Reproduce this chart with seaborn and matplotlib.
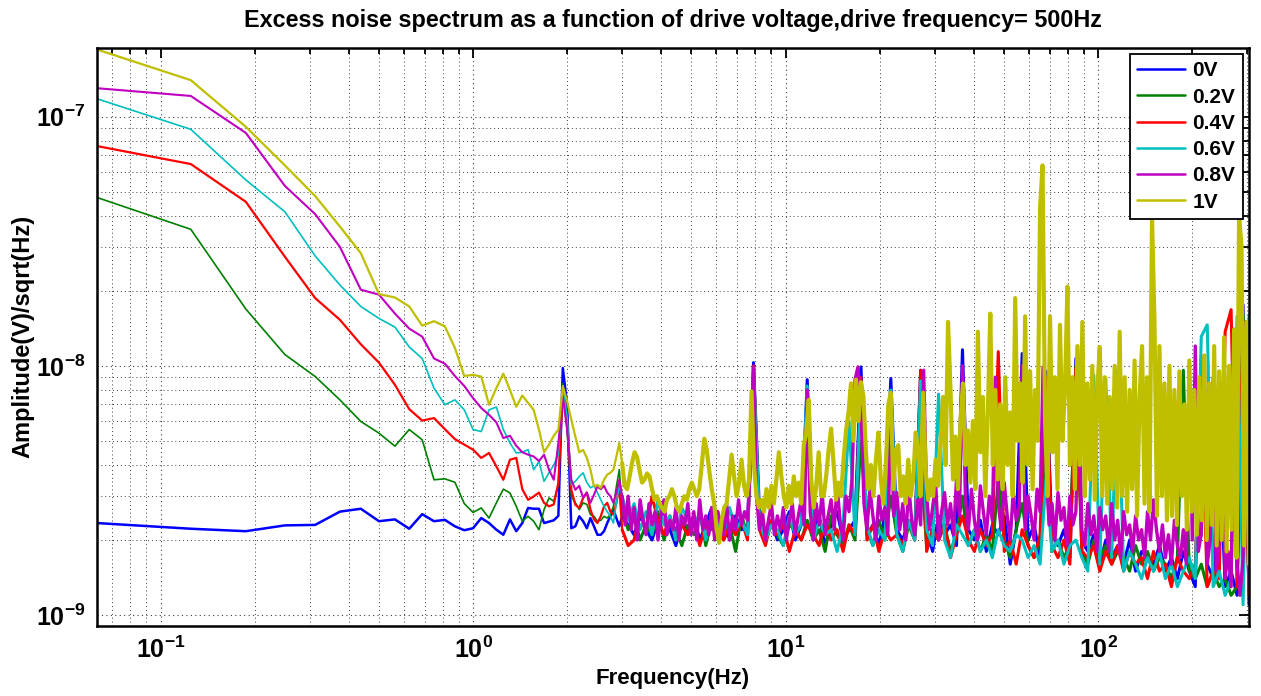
import numpy as np
import pandas as pd
import matplotlib
matplotlib.use("Agg")
import matplotlib.pyplot as plt
import seaborn as sns
from matplotlib.ticker import LogLocator, NullFormatter, LogFormatterSciNotation

# ---------------- data (amplitudes in nV/sqrt(Hz)) ----------------
DF = 0.0625          # frequency resolution of the spectrum (Hz)
N_LOW = 48           # bins read one by one (0.0625 .. 3 Hz)
F_MAX = 304.0        # upper end of spectrum (Hz)

LABELS = ["0V", "0.2V", "0.4V", "0.6V", "0.8V", "1V"]
COLORS = ["#0000ff", "#008000", "#ff0000", "#00bfbf", "#bf00bf", "#bfbf00"]

V0_LOW = [2.34, 2.22, 2.17, 2.29, 2.30, 2.60, 2.67, 2.38, 2.42, 2.22,
          2.54, 2.38, 2.41, 2.27, 2.19, 2.23, 2.45, 2.34, 2.20, 2.10,
          2.42, 2.17, 2.34, 2.69, 2.67, 2.67, 2.34, 2.37, 2.40, 2.50,
          9.8, 7.0, 2.23, 2.27, 2.49, 2.38, 2.23, 2.45, 2.27, 2.10,
          2.10, 2.17, 2.34, 2.49, 2.65, 2.45, 2.27, 2.49]
V02_LOW = [47.4, 35.3, 16.9, 11.1, 9.06, 7.3, 5.98, 5.37, 4.76, 5.55,
           5.05, 3.49, 3.52, 3.41, 2.80, 2.58, 2.69, 2.45, 2.82, 3.2,
           3.09, 2.73, 2.38, 2.49, 2.38, 2.2, 2.65, 2.95, 2.86, 3.33,
           8.5, 5.55, 2.99, 2.82, 2.65, 2.82, 2.78, 2.53, 2.49, 2.38,
           2.40, 2.49, 2.45, 2.53, 2.73, 3.28, 3.83, 2.65]
V04_LOW = [76.2, 64.5, 45.5, 27.4, 18.7, 15.3, 12.2, 10.3, 8.39, 6.7,
           6.03, 6.17, 5.57, 5.08, 4.83, 4.61, 4.27, 4.47, 3.95, 3.49,
           4.2, 4.27, 3.2, 2.9, 2.99, 3.1, 2.82, 2.73, 2.78, 3.39,
           8.0, 6.07, 3.18, 2.77, 2.69, 2.95, 3.1, 2.65, 2.42, 2.34,
           2.49, 2.73, 2.82, 2.6, 2.53, 2.82, 3.28, 2.2]
V06_LOW = [118, 88.9, 55.7, 41.5, 27.6, 21.1, 17.3, 15.5, 14.3, 11.9,
           10.7, 8.14, 6.98, 7.3, 6.66, 5.55, 5.45, 6.66, 6.83, 5.55,
           4.9, 4.47, 4.5, 4.61, 3.83, 4.13, 3.44, 3.72, 4.0, 4.4,
           8.26, 6.26, 3.33, 3.44, 3.6, 3.72, 3.4, 3.24, 3.3, 3.1,
           2.9, 2.73, 2.6, 2.49, 2.34, 2.82, 3.3, 3.0]
V08_LOW = [130, 121, 86, 52.7, 40.6, 30, 20.2, 19.3, 16.2, 14.1,
           13.1, 10.7, 10.2, 9.1, 8.3, 7.42, 6.77, 6.36, 5.93, 5.13,
           5.24, 4.78, 4.5, 4.4, 4.33, 4.15, 4.4, 3.83, 3.49, 4.9,
           7.5, 5.55, 3.49, 3.18, 3.3, 2.95, 3.1, 2.82, 3.04, 3.28,
           3.2, 3.3, 3.1, 3.0, 2.82, 3.1, 3.49, 3.0]
V1_LOW = [186, 140, 91, 63.7, 48, 36.2, 28.3, 19.4, 18.8, 17.3,
          14.5, 15.1, 14.4, 11.8, 9.1, 9.2, 9.05, 6.98, 8.14, 9.3,
          8.0, 6.85, 7.6, 7.1, 6.66, 5.55, 4.5, 4.83, 5.24, 5.55,
          8.3, 7.2, 6.07, 5.2, 4.5, 4.6, 4.27, 3.83, 3.28, 3.33,
          3.24, 3.49, 3.66, 3.72, 3.83, 4.33, 4.9, 4.07]

# 3 Hz .. 304 Hz, read at evenly spaced positions on the log axis
V0_HIGH = [2.3, 2.1, 2.5, 2.2, 2.0, 2.4, 2.6, 2.2, 1.9, 2.4,
           2.2, 2.5, 2.0, 2.3, 2.7, 2.1, 2.4, 2.0, 2.5, 2.2,
           2.3, 10.3, 2.6, 2.1, 2.4, 2.0, 2.2, 2.6, 2.0, 2.3,
           8.8, 2.2, 2.5, 1.9, 2.3, 2.6, 2.0, 2.2, 2.4, 9.9,
           2.1, 2.3, 1.9, 2.5, 8.9, 2.2, 2.0, 2.4, 2.1, 9.6,
           2.2, 1.8, 2.5, 2.1, 2.3, 1.9, 11.6, 2.2, 2.0, 2.4,
           1.8, 2.3, 2.1, 2.5, 1.6, 2.2, 11.2, 2.0, 2.3, 1.7,
           9.5, 2.1, 1.9, 2.2, 1.7, 10.7, 2.0, 1.8, 2.1, 1.6,
           2.0, 1.7, 1.9, 1.6, 2.0, 1.5, 1.8, 1.7, 1.6, 1.9,
           1.5, 1.7, 1.4, 1.8, 1.5, 1.3, 10.7, 1.6, 1.4, 5.4,
           1.3, 1.5, 1.2, 17.6, 1.1]
V02_HIGH = [2.2, 2.5, 2.0, 2.3, 2.1, 2.6, 2.0, 2.4, 2.2, 1.9,
            2.3, 2.1, 2.6, 1.9, 2.4, 2.2, 2.0, 2.3, 1.8, 2.5,
            2.1, 9.0, 2.3, 2.0, 2.4, 2.1, 1.9, 2.3, 2.2, 2.0,
            2.4, 2.0, 2.2, 1.8, 2.5, 2.1, 1.9, 2.3, 2.0, 5.0,
            2.2, 1.9, 2.4, 2.0, 3.0, 2.1, 1.8, 2.3, 2.0, 4.0,
            1.9, 2.2, 2.0, 2.3, 1.8, 2.1, 3.0, 1.9, 2.2, 1.8,
            2.1, 1.8, 3.5, 2.0, 1.7, 2.2, 2.8, 1.9, 1.7, 2.0,
            4.5, 1.8, 2.0, 1.7, 1.9, 10.0, 1.8, 1.6, 2.0, 1.7,
            1.9, 1.6, 1.8, 1.7, 1.5, 1.9, 1.6, 1.8, 1.5, 1.7,
            1.6, 1.4, 1.7, 9.6, 1.5, 1.4, 1.6, 1.3, 1.5, 1.3,
            1.4, 1.2, 1.3, 16.0, 1.2]
V04_HIGH = [1.9, 2.0, 2.6, 2.2, 3.0, 2.4, 2.1, 2.5, 2.0, 2.3,
            2.1, 2.4, 1.9, 2.3, 2.2, 2.6, 2.0, 2.3, 2.1, 2.4,
            2.0, 10.0, 2.2, 1.9, 2.4, 2.1, 2.3, 1.8, 2.2, 2.0,
            2.3, 2.1, 1.9, 2.4, 2.0, 2.2, 1.8, 2.3, 2.1, 9.0,
            2.0, 2.3, 1.8, 2.2, 2.0, 2.1, 1.9, 2.4, 2.0, 9.6,
            1.8, 2.2, 2.0, 2.3, 1.7, 2.1, 2.5, 2.0, 1.8, 2.2,
            1.9, 2.1, 11.4, 1.8, 2.0, 1.6, 2.2, 1.9, 1.7, 2.1,
            9.0, 1.9, 1.7, 2.0, 1.6, 9.8, 1.8, 1.7, 1.9, 1.5,
            1.8, 1.6, 1.9, 1.5, 1.8, 1.6, 1.7, 1.4, 1.8, 1.5,
            1.6, 1.3, 1.7, 1.5, 1.4, 1.6, 8.0, 1.3, 1.5, 1.4,
            13.7, 16.8, 1.3, 15.0, 1.2]
V06_HIGH = [2.4, 2.8, 2.2, 2.6, 2.1, 2.9, 2.3, 2.5, 2.0, 2.7,
            2.4, 2.2, 2.6, 2.0, 2.5, 2.3, 2.1, 2.7, 2.2, 2.4,
            2.1, 9.5, 2.4, 2.0, 2.3, 2.2, 1.9, 2.5, 2.1, 2.3,
            8.3, 2.0, 2.4, 2.1, 2.2, 1.8, 2.3, 6.0, 2.1, 8.0,
            2.3, 1.9, 2.2, 2.0, 8.0, 2.1, 1.8, 2.4, 2.0, 8.7,
            2.2, 1.9, 7.7, 2.0, 1.7, 2.3, 2.1, 1.9, 2.2, 1.8,
            2.0, 1.7, 2.2, 1.9, 1.8, 2.1, 2.0, 1.7, 1.9, 1.6,
            3.5, 1.8, 2.0, 1.6, 1.9, 2.0, 1.7, 1.5, 9.2, 1.6,
            8.9, 1.7, 9.6, 1.5, 1.8, 1.6, 1.4, 1.7, 1.5, 1.8,
            1.4, 1.6, 1.3, 1.5, 1.7, 1.4, 13.1, 14.6, 1.3, 1.5,
            1.2, 1.4, 15.8, 1.1, 16.0]
V08_HIGH = [2.3, 3.0, 2.2, 2.7, 2.0, 2.9, 2.4, 2.1, 2.8, 2.3,
            2.6, 2.0, 2.5, 2.9, 2.1, 2.4, 2.2, 2.7, 2.0, 2.5,
            2.3, 2.8, 2.1, 2.6, 2.0, 2.9, 2.2, 2.5, 2.1, 2.7,
            2.0, 2.6, 2.3, 2.1, 2.8, 2.0, 2.5, 2.2, 2.9, 2.3,
            2.6, 2.4, 4.0, 9.9, 3.0, 2.2, 2.6, 2.0, 2.4, 2.8,
            2.1, 2.5, 2.2, 2.7, 2.0, 2.4, 2.8, 2.1, 2.5, 2.9,
            2.3, 8.0, 2.6, 2.0, 2.8, 2.3, 3.1, 2.1, 2.5, 2.9,
            2.2, 3.3, 2.4, 2.0, 3.0, 2.6, 3.5, 8.8, 9.9, 7.0,
            2.8, 2.2, 3.2, 2.5, 2.0, 3.0, 2.4, 2.7, 2.1, 6.0,
            2.5, 3.1, 2.2, 2.8, 2.0, 3.3, 2.4, 2.1, 2.9, 2.3,
            9.6, 3.0, 2.2, 2.7, 3.4, 2.0, 2.6, 3.1, 2.3, 2.8,
            2.1, 3.5, 2.5, 10.0, 2.9, 2.2, 3.2, 2.4, 2.0, 3.3,
            2.6, 2.1, 3.0, 2.4, 9.0, 2.8, 2.2, 3.4, 2.5, 2.0,
            3.1, 2.4, 2.7, 10.0, 2.2, 3.0, 2.5, 2.0, 3.2, 2.6,
            9.9, 4.0, 2.3, 2.8, 2.0, 3.1, 2.4, 2.7, 1.9, 3.0,
            2.3, 2.6, 8.0, 2.2, 1.9, 2.8, 2.1, 2.5, 1.8, 2.7,
            2.2, 2.5, 1.8, 2.8, 2.0, 2.4, 1.7, 2.6, 2.1, 2.3,
            1.8, 2.5, 2.0, 2.2, 1.7, 2.6, 2.0, 2.9, 2.2, 1.8,
            2.3, 1.7, 2.1, 1.6, 2.4, 1.9, 1.7, 2.2, 1.6, 10.0,
            2.0, 12.0, 1.8, 2.1, 11.0, 1.6, 2.0, 9.0, 1.5, 1.9,
            8.5, 1.4, 1.8, 1.3, 10.0, 1.6, 1.2, 1.7, 15.0, 1.3]
V1_HIGH = [3.3, 3.2, 3.6, 4.1, 4.5, 4.3, 3.8, 3.4, 3.5, 3.7,
           3.6, 3.2, 2.9, 3.0, 2.8, 2.7, 2.6, 2.9, 3.0, 3.2,
           3.0, 2.7, 2.6, 2.8, 3.0, 2.9, 3.2, 3.4, 3.2, 3.0,
           3.2, 4.0, 5.1, 4.6, 3.8, 3.2, 2.8, 2.2, 1.95, 2.4,
           2.7, 2.8, 3.5, 4.4, 3.6, 3.0, 3.4, 4.2, 3.3, 3.0,
           3.5, 7.9, 4.0, 3.0, 2.7, 2.9, 2.6, 3.2, 2.7, 3.3,
           2.8, 3.5, 4.5, 3.6, 3.0, 2.7, 3.3, 2.8, 3.6, 3.0,
           3.4, 2.8, 4.8, 5.4, 7.3, 3.5, 2.7, 3.3, 4.5, 3.0,
           3.0, 3.6, 4.6, 5.6, 4.0, 2.9, 3.4, 3.0, 4.2, 5.5,
           6.5, 8.5, 5.0, 8.8, 6.0, 8.6, 7.5, 4.5, 3.2, 4.0,
           3.0, 4.2, 5.4, 3.5, 2.8, 4.0, 7.0, 7.8, 3.2, 4.6,
           4.8, 3.0, 3.6, 2.8, 4.2, 3.0, 3.5, 5.4, 4.6, 3.0,
           7.8, 3.8, 2.9, 3.5, 3.0, 4.2, 3.3, 5.0, 7.5, 4.0,
           15.0, 8.0, 3.5, 5.2, 3.2, 6.0, 8.5, 4.0, 5.5, 3.4,
           6.0, 3.2, 13.7, 4.5, 7.5, 3.0, 6.5, 16.2, 4.0, 8.0,
           3.5, 7.0, 3.2, 9.0, 4.0, 6.5, 3.0, 18.7, 5.0, 8.5,
           3.4, 15.8, 4.0, 9.5, 3.2, 8.0, 5.0, 43.0, 63.7, 6.0,
           3.0, 15.8, 4.5, 9.0, 3.2, 14.6, 5.0, 8.0, 20.8, 4.0,
           9.0, 3.2, 12.0, 4.0, 15.0, 3.0, 8.5, 3.5, 10.0, 2.9,
           8.0, 11.9, 3.0, 9.0, 2.8, 7.5, 3.2, 10.0, 2.7, 13.7,
           3.0, 9.0, 2.6, 8.0, 3.2, 10.5, 2.5, 7.5, 12.0, 2.8,
           9.0, 2.6, 39.6, 15.0, 2.5, 12.0, 3.0, 8.5, 2.4, 10.0,
           2.5, 8.0, 2.3, 9.5, 3.0, 7.0, 2.2, 10.5, 2.6, 8.0,
           2.1, 9.0, 2.4, 11.0, 2.0, 8.5, 2.3, 12.0, 1.9, 9.5,
           2.0, 13.0, 1.8, 10.0, 2.2, 14.0, 1.7, 40.0, 30.0, 1.9,
           15.0, 1.6]

LOWS = [V0_LOW, V02_LOW, V04_LOW, V06_LOW, V08_LOW, V1_LOW]
HIGHS = [V0_HIGH, V02_HIGH, V04_HIGH, V06_HIGH, V08_HIGH, V1_HIGH]
LW_LOW = [1.8, 1.2, 1.6, 1.2, 1.5, 1.6]     # line widths below 3 Hz
LW_HIGH = [2.2, 2.2, 2.2, 2.2, 2.4, 3.0]    # line widths in the dense band

# ---------------- build table ----------------
f_low = DF * np.arange(1, N_LOW + 1)
frames = []
for lab, low, high in zip(LABELS, LOWS, HIGHS):
    f_high = np.geomspace(N_LOW * DF, F_MAX, len(high) + 1)[1:]
    f = np.concatenate([f_low, f_high])
    a = np.concatenate([np.array(low, float), np.array(high, float)]) * 1e-9
    part = np.where(f <= N_LOW * DF + 1e-9, "low", "high")
    frames.append(pd.DataFrame({"freq": f, "amp": a, "series": lab, "part": part}))
data = pd.concat(frames, ignore_index=True)

# ---------------- style ----------------
sns.set_style("white")
plt.rcParams["font.family"] = ["Liberation Sans", "DejaVu Sans"]
plt.rcParams["font.weight"] = "bold"
plt.rcParams["text.color"] = "black"
plt.rcParams["axes.labelcolor"] = "black"
plt.rcParams["xtick.color"] = "black"
plt.rcParams["ytick.color"] = "black"
plt.rcParams["mathtext.fontset"] = "custom"
plt.rcParams["mathtext.rm"] = "Liberation Sans:bold"
plt.rcParams["mathtext.bf"] = "Liberation Sans:bold"
plt.rcParams["mathtext.it"] = "Liberation Sans:bold"
plt.rcParams["mathtext.default"] = "bf"

fig = plt.figure(figsize=(12.61, 6.96), dpi=100)
ax = fig.add_axes([0.0767, 0.1006, 0.9138, 0.8309])

for lab, col, lw1, lw2 in zip(LABELS, COLORS, LW_LOW, LW_HIGH):
    sub = data[data["series"] == lab]
    low = sub[sub["part"] == "low"]
    # high band starts from the last low point so the line is continuous
    high = pd.concat([low.iloc[[-1]], sub[sub["part"] == "high"]])
    sns.lineplot(data=low, x="freq", y="amp", color=col, linewidth=lw1,
                 label=lab, estimator=None, sort=False, ax=ax)
    sns.lineplot(data=high, x="freq", y="amp", color=col, linewidth=lw2,
                 estimator=None, sort=False, ax=ax, legend=False)

ax.set_xscale("log")
ax.set_yscale("log")
ax.set_xlim(0.0625, F_MAX)
ax.set_ylim(0.904e-9, 1.89e-7)

ax.set_xticks([0.1, 1, 10, 100])
ax.set_yticks([1e-9, 1e-8, 1e-7])
for axis in (ax.xaxis, ax.yaxis):
    axis.set_major_formatter(LogFormatterSciNotation())
    axis.set_minor_locator(LogLocator(base=10, subs=np.arange(2, 10), numticks=100))
    axis.set_minor_formatter(NullFormatter())

ax.set_axisbelow(True)
ax.grid(True, which="major", color="0.25", linestyle=(0, (1, 3)), linewidth=0.8)
ax.grid(True, which="minor", color="0.25", linestyle=(0, (1, 3)), linewidth=0.7)

ax.tick_params(which="both", direction="in", top=True, right=True, width=1.3,
               colors="black")
ax.tick_params(which="major", length=7, labelsize=18)
ax.tick_params(which="minor", length=4)
ax.tick_params(axis="x", which="major", pad=8)
ax.tick_params(axis="y", which="major", pad=8)
for sp in ax.spines.values():
    sp.set_linewidth(1.8)
    sp.set_color("black")

ax.set_xlabel("Frequency(Hz)", fontsize=16, fontweight="bold", labelpad=3)
ax.set_ylabel("Amplitude(V)/sqrt(Hz)", fontsize=17, fontweight="bold", labelpad=1)
ax.set_title("Excess noise spectrum as a function of drive voltage,drive frequency= 500Hz",
             fontsize=16.8, fontweight="bold", pad=15)

leg = ax.legend(loc="upper right", prop={"weight": "bold", "size": 15},
                frameon=True, fancybox=False, edgecolor="black", framealpha=1,
                borderaxespad=0.3, handlelength=2.3, labelspacing=0.35,
                borderpad=0.35, handletextpad=0.35)
leg.get_frame().set_linewidth(1.3)
for h in leg.get_lines():
    h.set_linewidth(1.8)
for t in leg.get_texts():
    t.set_color("black")

fig.savefig("out.png", dpi=100)
